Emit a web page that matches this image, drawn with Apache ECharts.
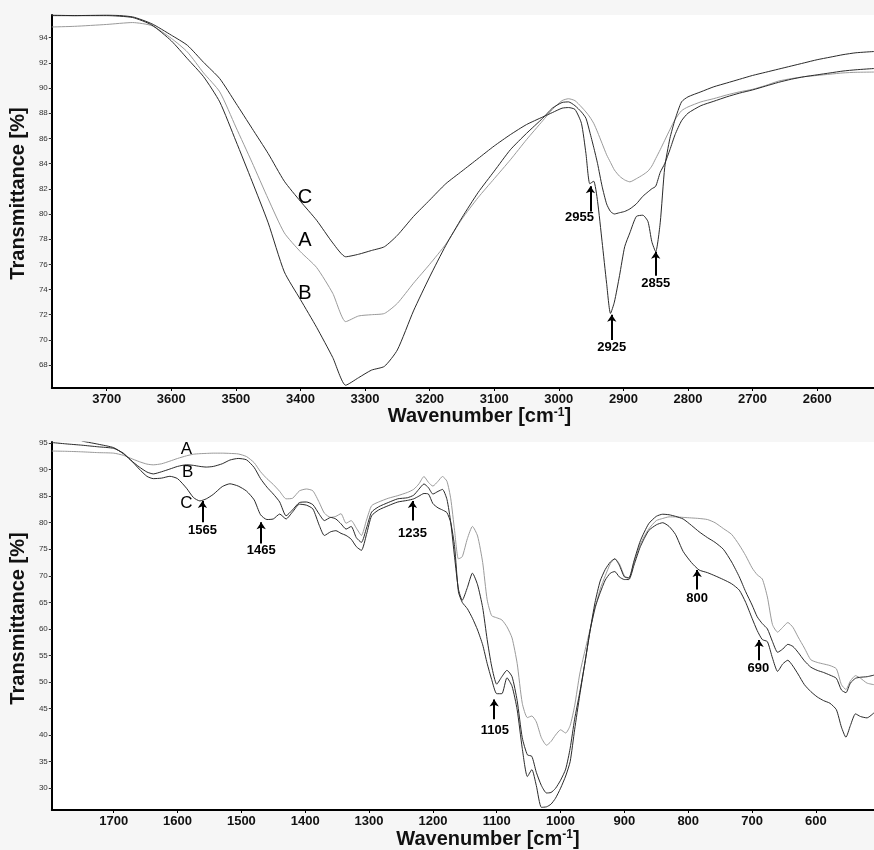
<!DOCTYPE html>
<html>
<head>
<meta charset="utf-8">
<script src="https://cdn.jsdelivr.net/npm/echarts@6/dist/echarts.min.js"></script>
<style>
  html, body { margin: 0; padding: 0; background: #f6f6f6; }
  #chart { width: 874px; height: 850px; }
</style>
</head>
<body>
<div id="chart"></div>
<script>
// top panel: 3785 - 2512 cm-1
const topWave = [3785, 3750, 3700, 3660, 3630, 3600, 3575, 3550, 3525, 3500, 3475, 3450, 3425, 3400, 3375, 3350, 3330, 3310, 3290, 3270,
  3250, 3225, 3200, 3175, 3150, 3125, 3100, 3075, 3050, 3025, 3010, 2995, 2985, 2975, 2965, 2958, 2952, 2946, 2940, 2933,
  2926, 2920, 2914, 2906, 2898, 2890, 2880, 2870, 2862, 2856, 2850, 2843, 2836, 2828, 2820, 2810, 2800, 2780, 2760, 2740,
  2720, 2700, 2680, 2660, 2640, 2620, 2600, 2580, 2560, 2540, 2512]
const topA = [94.85, 94.9, 95.05, 95.2, 94.95, 93.95, 92.86, 91.2, 89.7, 86.9, 84.1, 81.2, 78.5, 77.0, 75.75, 73.7, 71.45, 71.9, 72.0, 72.1,
  72.9, 74.5, 76.0, 77.6, 79.6, 81.3, 82.8, 84.3, 85.9, 87.4, 88.3, 89.0, 89.15, 89.0, 88.5, 88.1, 87.7, 87.2, 86.5, 85.6,
  84.7, 84.1, 83.5, 83.0, 82.7, 82.55, 82.8, 83.1, 83.4, 83.8, 84.4, 85.1, 85.85, 86.7, 87.5, 88.2, 88.5, 88.9, 89.16, 89.45,
  89.7, 89.9, 90.2, 90.55, 90.75, 90.9, 91.0, 91.1, 91.2, 91.25, 91.27]
const topB = [95.75, 95.75, 95.75, 95.6, 95.0, 93.75, 92.33, 90.9, 88.9, 85.8, 82.6, 79.3, 75.4, 73.2, 71.0, 68.6, 66.4, 67.0, 67.6, 67.9,
  69.2, 72.3, 75.0, 77.5, 79.7, 81.7, 83.4, 85.1, 86.4, 87.6, 88.4, 88.85, 88.9, 88.6, 88.1, 87.6, 86.5, 85.3, 84.0, 82.2,
  80.8, 80.2, 80.0, 80.1, 80.2, 80.4, 80.8, 81.4, 81.75, 82.0, 82.2, 83.3, 84.0, 85.1, 86.3, 87.4, 88.0, 88.6, 88.95, 89.3,
  89.6, 89.85, 90.15, 90.45, 90.7, 90.9, 91.05, 91.2, 91.35, 91.45, 91.55]
const topC = [95.8, 95.75, 95.8, 95.65, 95.1, 94.2, 93.39, 92.04, 90.75, 88.8, 86.8, 84.8, 82.6, 81.0, 79.5, 77.7, 76.6, 76.8, 77.1, 77.4,
  78.3, 79.8, 81.1, 82.4, 83.4, 84.4, 85.4, 86.3, 87.1, 87.7, 88.05, 88.4, 88.45, 88.3, 87.2, 84.8, 82.4, 82.6, 81.0, 77.8,
  74.5, 72.1, 73.0, 75.1, 77.4, 78.5, 79.8, 79.9, 79.4, 77.8, 77.0, 79.3, 83.7, 86.0, 87.5, 88.9, 89.3, 89.7, 90.1, 90.4,
  90.7, 91.0, 91.25, 91.5, 91.75, 92.0, 92.25, 92.45, 92.65, 92.8, 92.9]
const topXTicks = [3700, 3600, 3500, 3400, 3300, 3200, 3100, 3000, 2900, 2800, 2700, 2600]
const topYTicks = [68, 70, 72, 74, 76, 78, 80, 82, 84, 86, 88, 90, 92, 94]

// bottom panel: 1797 - 509 cm-1
const botWave = [1797, 1775, 1750, 1725, 1700, 1685, 1674, 1660, 1648, 1638, 1625, 1612, 1600, 1586, 1575, 1565, 1555, 1544, 1530, 1518,
  1505, 1492, 1480, 1470, 1460, 1450, 1440, 1430, 1420, 1409, 1398, 1388, 1378, 1370, 1360, 1352, 1344, 1336, 1328, 1320,
  1312, 1304, 1296, 1285, 1270, 1255, 1240, 1230, 1222, 1214, 1207, 1200, 1192, 1185, 1178, 1172, 1166, 1160, 1154, 1146,
  1138, 1130, 1122, 1115, 1108, 1100, 1092, 1084, 1076, 1068, 1060, 1052, 1045, 1038, 1030, 1022, 1015, 1008, 1000, 992,
  985, 978, 970, 962, 954, 946, 938, 930, 922, 915, 908, 900, 893, 885, 875, 862, 850, 840, 830, 820,
  808, 795, 783, 770, 758, 745, 732, 720, 710, 700, 692, 684, 676, 668, 660, 652, 644, 636, 628, 618,
  608, 598, 588, 578, 568, 560, 553, 546, 538, 530, 520, 509]
const botA = [93.5, 93.45, 93.35, 93.2, 93.1, 92.7, 92.16, 91.5, 91.04, 90.9, 91.1, 91.6, 92.1, 92.6, 92.9, 93.0, 93.05, 93.1, 93.1, 93.05,
  92.95, 92.46, 91.3, 89.6, 88.3, 87.2, 85.9, 84.5, 84.6, 86.0, 86.35, 86.0, 83.8, 81.8, 81.0, 81.2, 81.7, 79.9, 80.4, 79.0,
  77.6, 80.5, 83.2, 83.9, 84.6, 85.1, 85.7, 86.3, 87.3, 88.7, 87.6, 86.9, 87.8, 88.7, 87.8, 84.5, 78.5, 73.2, 73.6, 77.0,
  79.3, 77.5, 72.5, 65.5, 62.5, 62.1, 61.7, 60.4, 58.3, 53.5, 46.0, 43.3, 43.6, 42.5, 39.5, 38.1, 38.8, 40.0, 41.0, 40.4,
  41.8, 45.5, 51.5, 55.8, 59.8, 63.8, 67.5, 70.0, 72.3, 73.2, 72.3, 70.0, 69.6, 72.5, 76.0, 78.8, 80.4, 80.8, 81.1, 81.1,
  81.0, 80.9, 80.8, 80.6, 80.0, 78.9, 77.8, 75.8, 73.8, 71.5, 70.2, 69.4, 66.0, 60.8, 59.4, 60.3, 61.2, 60.3, 58.5, 56.4,
  54.2, 53.7, 53.4, 53.1, 52.5, 49.5, 48.6, 50.2, 51.2, 50.7, 49.8, 49.5]
const botB = [95.1, 94.85, 94.6, 94.3, 94.0, 93.1, 91.84, 90.5, 89.55, 89.19, 89.6, 90.11, 90.6, 90.91, 90.8, 90.6, 90.48, 90.6, 91.1, 91.8,
  92.1, 91.84, 90.4, 88.3, 86.7, 85.4, 83.9, 81.3, 82.4, 83.8, 83.9, 83.4, 81.6, 80.4, 81.0, 80.7, 79.8, 78.8, 79.3, 77.2,
  76.3, 79.0, 82.0, 83.0, 83.8, 84.5, 84.7, 85.2, 86.3, 87.3, 86.6, 85.4, 85.9, 86.27, 84.4, 80.0, 73.5, 67.5, 65.4, 67.8,
  70.5, 68.3, 64.0, 58.0, 53.0, 49.6, 51.0, 52.2, 51.0, 46.5, 39.5, 36.3, 36.0, 33.0, 30.5, 29.1, 29.2, 29.96, 31.5, 33.6,
  37.5, 43.0, 48.0, 53.5, 59.5, 65.0, 69.0, 71.2, 72.6, 73.2, 72.0, 69.8, 69.6, 72.8, 76.6, 79.8, 81.2, 81.6, 81.5, 81.2,
  80.7, 79.5, 78.3, 77.2, 76.3, 75.0, 72.6, 69.8, 67.0, 64.5, 62.3, 61.0, 60.0, 57.6, 55.6, 56.2, 57.1, 56.7, 55.6, 54.0,
  52.8, 52.2, 51.8, 51.3, 50.7, 48.5, 48.0, 49.8, 50.7, 50.9, 51.0, 51.3]
const botC = [null, null, 95.37, 94.8, 94.13, 93.0, 91.9, 90.1, 88.74, 88.3, 88.4, 88.74, 88.3, 86.5, 84.73, 84.1, 84.5, 85.34, 86.8, 87.33,
  86.9, 85.96, 84.3, 81.5, 80.6, 80.71, 81.63, 80.71, 82.0, 83.49, 83.3, 82.6, 79.5, 77.6, 78.3, 78.5, 78.0, 77.6, 76.9, 75.5,
  74.8, 77.8, 81.3, 82.4, 83.2, 83.9, 84.2, 84.5, 85.0, 85.5, 85.4, 83.6, 82.8, 82.4, 81.9, 80.0, 75.5, 67.0, 65.0, 63.8,
  62.0, 59.8, 57.0, 53.5, 50.5, 47.8, 47.8, 50.8, 49.2, 44.8, 37.5, 32.2, 33.5, 30.5, 26.4, 26.5, 27.0, 28.1, 30.0, 32.3,
  35.0, 41.0, 47.5, 53.5, 59.5, 64.0, 66.8, 69.2, 70.5, 70.8, 69.8, 69.3, 69.3, 72.0, 75.5, 78.5, 79.6, 80.0, 79.3, 77.8,
  74.6, 72.5, 71.1, 70.6, 70.0, 69.3, 68.5, 67.3, 65.0, 62.0, 59.7, 58.0, 57.6, 54.5, 52.0, 53.4, 54.1, 53.0, 51.5, 49.5,
  48.2, 47.2, 46.5, 46.0, 44.8, 41.5, 39.6, 41.8, 44.0, 43.5, 43.25, 44.2]
const botXTicks = [1700, 1600, 1500, 1400, 1300, 1200, 1100, 1000, 900, 800, 700, 600]
const botYTicks = [30, 35, 40, 45, 50, 55, 60, 65, 70, 75, 80, 85, 90, 95]

// band arrows: [label, wavenumber, arrow tip, arrow tail, text position]
const topBands = [
  ['2955', 2951, 82.2, 80.2, [2968, 79.7]],
  ['2925', 2918, 72.0, 70.0, [2918, 69.4]],
  ['2855', 2850, 77.0, 75.1, [2850, 74.5]]
]
const botBands = [
  ['1565', 1561, 84.1, 80.1, [1561, 78.5]],
  ['1465', 1469, 80.1, 76.1, [1469, 74.7]],
  ['1235', 1232, 84.1, 80.4, [1232, 78.0]],
  ['1105', 1104, 46.7, 43.0, [1103, 40.8]],
  ['800', 786, 71.1, 67.4, [786, 65.8]],
  ['690', 689, 57.9, 54.1, [690, 52.6]]
]
const topLetters = [['C', 3393, 81.3], ['A', 3393, 77.9], ['B', 3393, 73.7]]
const botLetters = [['A', 1586, 93.9], ['B', 1584, 89.4], ['C', 1586, 83.7]]

const FONT = 'Liberation Sans, Arial, sans-serif'
const DARK = '#2a2a2a'
const GRAY = '#9a9a9a'

const chart = echarts.init(document.getElementById('chart'))

const pairs = (xs, ys) => xs.map((x, i) => [x, ys[i]])

const curve = (idx, xs, ys, color) => ({
  type: 'line',
  xAxisIndex: idx,
  yAxisIndex: idx,
  data: pairs(xs, ys),
  showSymbol: false,
  smooth: 0.2,
  silent: true,
  lineStyle: { color: color, width: 1 }
})

// text-only scatter: transparent symbol, full opacity so the label stays black
const textSeries = (idx, items, size, weight) => ({
  type: 'scatter',
  xAxisIndex: idx,
  yAxisIndex: idx,
  symbolSize: 1,
  itemStyle: { color: 'rgba(0,0,0,0)', opacity: 1 },
  silent: true,
  data: items,
  label: {
    show: true,
    position: 'inside',
    formatter: '{b}',
    fontSize: size,
    fontWeight: weight,
    fontFamily: FONT,
    color: '#000',
    opacity: 1
  }
})

const bandSeries = (idx, bands) => Object.assign(
  textSeries(idx, bands.map(b => ({ name: b[0], value: b[4] })), 13, 'bold'),
  {
    markLine: {
      silent: true,
      symbol: ['none', 'arrow'],
      symbolSize: 7,
      label: { show: false },
      lineStyle: { color: '#000', width: 2, type: 'solid', opacity: 1 },
      data: bands.map(b => [{ coord: [b[1], b[3]] }, { coord: [b[1], b[2]] }])
    }
  }
)

const letterSeries = (idx, letters, size) =>
  textSeries(idx, letters.map(l => ({ name: l[0], value: [l[1], l[2]] })), size, 'normal')

const xAxisOf = (idx, min, max, ticks, gap, shift) => ({
  type: 'value',
  gridIndex: idx,
  min: min,
  max: max,
  inverse: true,
  splitLine: { show: false },
  axisLine: { show: true, lineStyle: { color: '#000', width: 2 } },
  axisTick: { show: true, length: 3, customValues: ticks, lineStyle: { color: '#000' } },
  axisLabel: {
    customValues: ticks,
    formatter: v => String(v),
    fontSize: 13,
    fontWeight: 'bold',
    fontFamily: FONT,
    color: '#111',
    margin: 5
  },
  name: 'Wavenumber [cm{sup|-1}]',
  nameLocation: 'middle',
  nameGap: gap,
  nameTextStyle: {
    fontSize: 20,
    fontWeight: 'bold',
    fontFamily: FONT,
    color: '#111',
    padding: [0, 0, 0, shift],
    rich: { sup: { fontSize: 12, fontWeight: 'bold', fontFamily: FONT, color: '#111', verticalAlign: 'top' } }
  }
})

const yAxisOf = (idx, min, max, ticks, gap, shift) => ({
  type: 'value',
  gridIndex: idx,
  min: min,
  max: max,
  splitLine: { show: false },
  axisLine: { show: true, lineStyle: { color: '#000', width: 2 } },
  axisTick: { show: true, length: 3, customValues: ticks, lineStyle: { color: '#333' } },
  axisLabel: { customValues: ticks, fontSize: 8, fontFamily: FONT, color: '#333', margin: 4 },
  name: 'Transmittance [%]',
  nameLocation: 'middle',
  nameGap: gap,
  nameTextStyle: { fontSize: 20, fontWeight: 'bold', fontFamily: FONT, color: '#111', padding: [0, 0, 0, shift] }
})

chart.setOption({
  animation: false,
  grid: [
    { left: 47, top: 15, width: 827, height: 373, show: true, backgroundColor: '#fff', borderWidth: 0 },
    { left: 50, top: 442, width: 824, height: 373, show: true, backgroundColor: '#fff', borderWidth: 0 }
  ],
  xAxis: [
    xAxisOf(0, 2512, 3785, topXTicks, 15, 33),
    xAxisOf(1, 509, 1797, botXTicks, 19, 50)
  ],
  yAxis: [
    yAxisOf(0, 66.18, 95.8, topYTicks, 14, 16),
    yAxisOf(1, 25.9, 95.2, botYTicks, 18, 15)
  ],
  series: [
    curve(0, topWave, topA, GRAY),
    curve(0, topWave, topB, DARK),
    curve(0, topWave, topC, DARK),
    bandSeries(0, topBands),
    letterSeries(0, topLetters, 20),
    curve(1, botWave, botA, GRAY),
    curve(1, botWave, botB, DARK),
    curve(1, botWave, botC, DARK),
    bandSeries(1, botBands),
    letterSeries(1, botLetters, 17)
  ]
})
</script>
</body>
</html>
